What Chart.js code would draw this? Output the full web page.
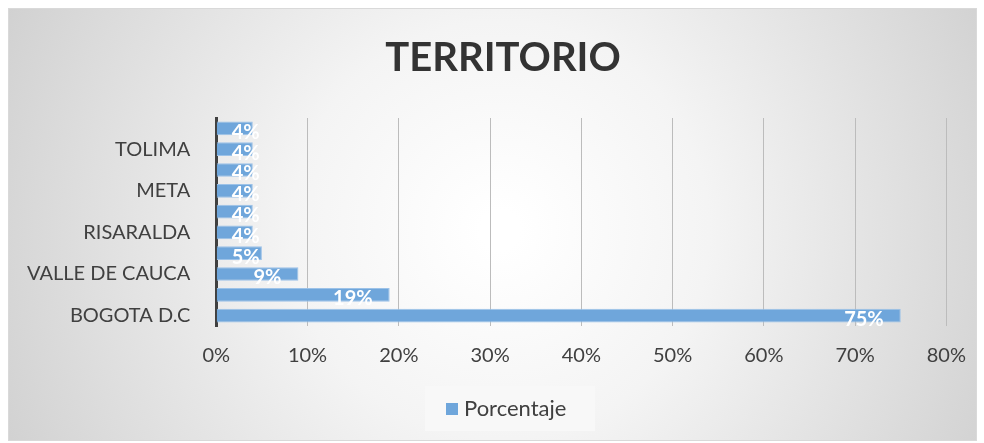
<!DOCTYPE html>
<html>
<head>
<meta charset="utf-8">
<script src="https://cdn.jsdelivr.net/npm/chart.js@4.4.1/dist/chart.umd.min.js"></script>
<style>
  body { margin: 0; background: #fff; }
  #wrap { width: 984px; height: 443px; }
</style>
</head>
<body>
<div id="wrap"><canvas id="chart"></canvas></div>
<script>
// categories top -> bottom (only every other one is labelled in the original)
let territorios = ["HUILA", "TOLIMA", "BOYACA", "META", "CALDAS", "RISARALDA", "CUNDINAMARCA", "VALLE DE CAUCA", "ANTIOQUIA", "BOGOTA D.C"];
let porcentaje = [4, 4, 4, 4, 4, 4, 5, 9, 19, 75];
let xTicks = [0, 10, 20, 30, 40, 50, 60, 70, 80];
let titulo = 'TERRITORIO';
let serie = 'Porcentaje';

let fontName = "Lato, 'Open Sans', sans-serif";
let grey = '#404040';
let barColor = '#6fa6db';

// background panel, title and legend (the original has them off-centre)
let bgPlugin = {
    id: 'bg',
    beforeDraw(chart) {
        let c = chart.ctx;
        c.save();
        c.fillStyle = '#fff';
        c.fillRect(0, 0, chart.width, chart.height);
        let g = c.createRadialGradient(500, 230, 20, 500, 230, 560);
        g.addColorStop(0, '#ffffff');
        g.addColorStop(0.35, '#f4f4f4');
        g.addColorStop(1, '#cfcfcf');
        c.fillStyle = g;
        c.fillRect(9, 9, 967, 431);
        c.strokeStyle = '#d9d9d9';
        c.lineWidth = 1;
        c.strokeRect(8.5, 8.5, 968, 432);

        // title
        c.fillStyle = '#333333';
        c.font = "bold 40px " + fontName;
        c.textAlign = 'center';
        c.textBaseline = 'middle';
        c.fillText(titulo, 503, 58);

        // legend
        c.fillStyle = '#f8f8f8';
        c.fillRect(425, 386, 170, 45);
        c.fillStyle = barColor;
        c.fillRect(446, 403, 12, 12);
        c.fillStyle = grey;
        c.font = "22px " + fontName;
        c.textAlign = 'left';
        c.fillText(serie, 464, 409);
        c.restore();
    }
};

// white value labels near the bar ends
let labelPlugin = {
    id: 'vals',
    afterDatasetsDraw(chart) {
        let c = chart.ctx;
        let meta = chart.getDatasetMeta(0);
        c.save();
        c.font = "bold 20px " + fontName;
        c.fillStyle = '#ffffff';
        c.textBaseline = 'middle';
        c.textAlign = 'left';
        meta.data.forEach((bar, i) => {
            let txt = porcentaje[i] + '%';
            let w = c.measureText(txt).width;
            let x = Math.max(bar.x - 17 - w, bar.base + 15);
            c.fillText(txt, x, bar.y + 4);
        });
        c.restore();
    }
};

new Chart(document.getElementById('chart'), {
    type: 'bar',
    data: {
        labels: territorios,
        datasets: [{
            label: serie,
            data: porcentaje,
            backgroundColor: barColor,
            borderColor: '#9cc2e8',
            borderWidth: 1,
            barPercentage: 0.66,
            categoryPercentage: 1.0
        }]
    },
    options: {
        indexAxis: 'y',
        responsive: true,
        maintainAspectRatio: false,
        animation: false,
        layout: { padding: { left: 9, right: 23, top: 118, bottom: 57 } },
        scales: {
            x: {
                min: 0,
                max: 80,
                afterBuildTicks(axis) { axis.ticks = xTicks.map(v => ({ value: v })); },
                ticks: {
                    color: grey,
                    font: { family: fontName, size: 20 },
                    padding: 18,
                    callback: v => v + '%'
                },
                grid: { color: '#bcbcbc', drawTicks: false },
                border: { display: false }
            },
            y: {
                ticks: {
                    autoSkip: false,
                    color: grey,
                    font: { family: fontName, size: 20 },
                    padding: 18,
                    callback: (v, i) => (i % 2 === 1 ? territorios[i] : '')
                },
                grid: { display: false },
                border: { display: true, color: '#404040', width: 3 }
            }
        },
        plugins: {
            title: { display: false },
            legend: { display: false },
            tooltip: { enabled: false }
        }
    },
    plugins: [bgPlugin, labelPlugin]
});
</script>
</body>
</html>
